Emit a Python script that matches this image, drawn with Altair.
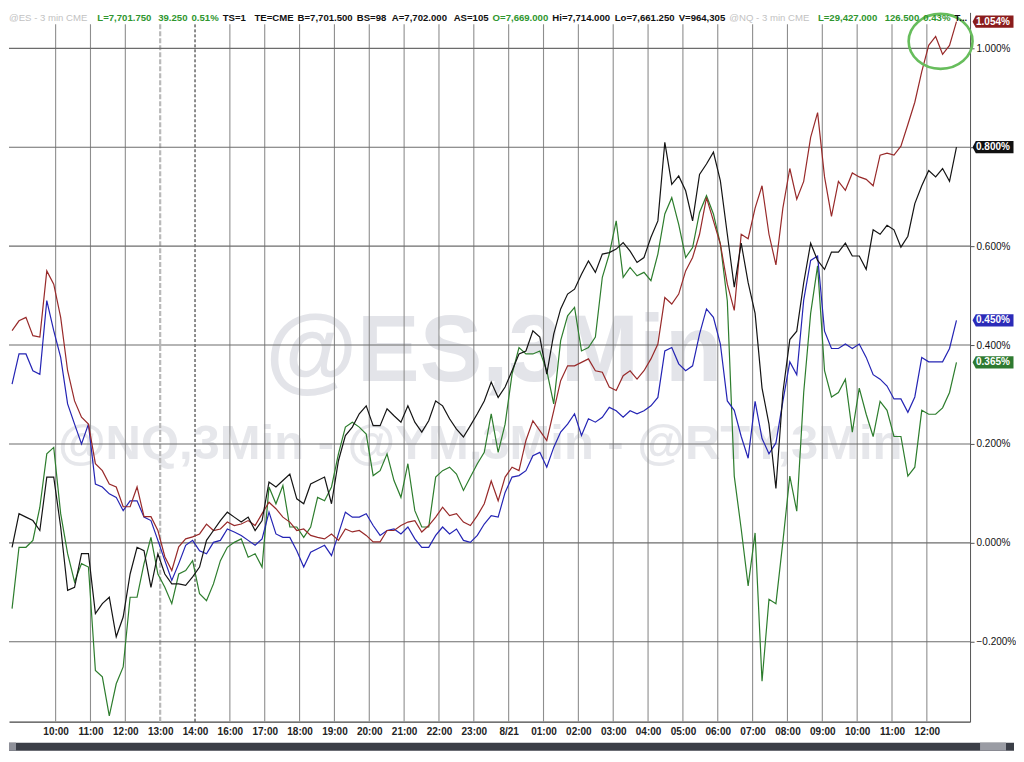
import json
import altair as alt
import pandas as pd

# ---------------- data ----------------
time_labels = ["10:00", "11:00", "12:00", "13:00", "14:00", "16:00", "17:00", "18:00",
               "19:00", "20:00", "21:00", "22:00", "23:00", "8/21", "01:00", "02:00",
               "03:00", "04:00", "05:00", "06:00", "07:00", "08:00", "09:00", "10:00",
               "11:00", "12:00"]
y_ticks = [-0.2, 0.0, 0.2, 0.4, 0.6, 0.8, 1.0]

# percent change, sampled every 12 minutes (4 bars of 3 min)
red_pct = [
    0.429, 0.449, 0.456, 0.419, 0.416, 0.550, 0.523, 0.456, 0.348, 0.287,
    0.254, 0.240, 0.160, 0.146, 0.119, 0.113, 0.073, 0.073, 0.113, 0.053,
    0.053, 0.025, -0.028, -0.056, -0.008, 0.008, 0.012, 0.018, 0.038, 0.025,
    0.028, 0.042, 0.035, 0.038, 0.045, 0.035, 0.059, 0.082, 0.069, 0.052,
    0.042, 0.025, 0.028, 0.015, 0.011, 0.008, 0.018, 0.005, 0.028, 0.022,
    0.025, 0.015, 0.002, 0.002, 0.025, 0.025, 0.035, 0.042, 0.045, 0.022,
    0.035, 0.052, 0.072, 0.055, 0.059, 0.042, 0.035, 0.055, 0.079, 0.125,
    0.085, 0.133, 0.153, 0.146, 0.207, 0.247, 0.227, 0.207, 0.267, 0.328,
    0.358, 0.358, 0.365, 0.372, 0.348, 0.345, 0.315, 0.308, 0.338, 0.348,
    0.331, 0.348, 0.372, 0.402, 0.496, 0.483, 0.503, 0.550, 0.577, 0.624,
    0.698, 0.651, 0.604, 0.523, 0.470, 0.624, 0.615, 0.677, 0.722, 0.624,
    0.562, 0.677, 0.757, 0.695, 0.731, 0.820, 0.870, 0.740, 0.660, 0.731,
    0.713, 0.748, 0.740, 0.735, 0.722, 0.784, 0.788, 0.784, 0.802, 0.846,
    0.891, 0.953, 1.006, 1.024, 0.988, 1.006, 1.054]

black_pct = [
    -0.009, 0.059, 0.052, 0.045, 0.025, 0.133, 0.133, 0.032, -0.096, -0.090,
    -0.022, -0.022, -0.143, -0.123, -0.110, -0.190, -0.150, -0.063, -0.009, -0.016,
    -0.090, -0.022, -0.063, -0.083, -0.083, -0.086, -0.069, -0.049, 0.005, 0.025,
    0.045, 0.062, 0.052, 0.042, 0.052, 0.025, 0.045, 0.123, 0.113, 0.126,
    0.139, 0.089, 0.079, 0.119, 0.126, 0.133, 0.079, 0.166, 0.217, 0.234,
    0.261, 0.277, 0.237, 0.237, 0.271, 0.257, 0.244, 0.277, 0.244, 0.224,
    0.247, 0.287, 0.277, 0.251, 0.230, 0.214, 0.237, 0.261, 0.287, 0.325,
    0.294, 0.315, 0.348, 0.382, 0.388, 0.429, 0.416, 0.341, 0.422, 0.473,
    0.503, 0.513, 0.543, 0.570, 0.547, 0.584, 0.587, 0.594, 0.607, 0.590,
    0.567, 0.577, 0.618, 0.651, 0.810, 0.725, 0.742, 0.712, 0.651, 0.745,
    0.766, 0.790, 0.732, 0.624, 0.517, 0.606, 0.526, 0.464, 0.313, 0.240,
    0.110, 0.304, 0.411, 0.428, 0.526, 0.606, 0.571, 0.553, 0.588, 0.588,
    0.606, 0.580, 0.580, 0.553, 0.633, 0.624, 0.642, 0.633, 0.598, 0.620,
    0.686, 0.722, 0.753, 0.740, 0.757, 0.731, 0.800]

blue_pct = [
    0.321, 0.382, 0.382, 0.348, 0.341, 0.490, 0.429, 0.375, 0.281, 0.240,
    0.200, 0.240, 0.119, 0.113, 0.099, 0.092, 0.065, 0.085, 0.085, 0.052,
    0.045, 0.005, -0.036, -0.076, -0.042, -0.005, 0.005, -0.016, -0.022, 0.001,
    0.005, 0.028, 0.022, 0.015, 0.005, -0.005, 0.008, 0.062, 0.018, 0.011,
    0.011, -0.016, -0.049, -0.019, -0.012, -0.005, -0.026, 0.018, 0.062, 0.052,
    0.052, 0.059, 0.035, 0.015, 0.025, 0.028, 0.018, 0.032, 0.008, -0.009,
    -0.009, 0.015, 0.032, 0.018, 0.028, 0.005, 0.001, 0.015, 0.038, 0.055,
    0.052, 0.102, 0.133, 0.136, 0.146, 0.176, 0.183, 0.153, 0.193, 0.224,
    0.240, 0.261, 0.217, 0.251, 0.244, 0.254, 0.274, 0.267, 0.254, 0.267,
    0.261, 0.267, 0.277, 0.294, 0.388, 0.395, 0.362, 0.348, 0.358, 0.422,
    0.473, 0.456, 0.402, 0.287, 0.268, 0.215, 0.171, 0.286, 0.211, 0.180,
    0.202, 0.286, 0.366, 0.340, 0.491, 0.571, 0.580, 0.428, 0.393, 0.393,
    0.402, 0.393, 0.402, 0.375, 0.340, 0.331, 0.317, 0.291, 0.291, 0.264,
    0.295, 0.375, 0.366, 0.366, 0.366, 0.393, 0.450]

green_pct = [
    -0.133, -0.009, -0.009, 0.005, 0.072, 0.180, 0.193, 0.059, -0.022, -0.079,
    -0.042, -0.049, -0.258, -0.271, -0.350, -0.285, -0.251, -0.110, -0.110, -0.042,
    0.011, -0.063, -0.090, -0.123, -0.063, -0.056, -0.036, -0.103, -0.117, -0.083,
    -0.036, -0.009, 0.001, 0.008, -0.029, -0.022, -0.049, 0.113, 0.079, 0.116,
    0.032, 0.032, 0.011, 0.032, 0.092, 0.085, 0.113, 0.180, 0.234, 0.244,
    0.234, 0.220, 0.136, 0.146, 0.180, 0.126, 0.092, 0.160, 0.065, 0.032,
    0.032, 0.133, 0.146, 0.153, 0.139, 0.106, 0.133, 0.160, 0.183, 0.261,
    0.183, 0.240, 0.341, 0.395, 0.382, 0.382, 0.388, 0.348, 0.281, 0.409,
    0.459, 0.476, 0.388, 0.395, 0.416, 0.537, 0.584, 0.651, 0.537, 0.557,
    0.540, 0.547, 0.530, 0.584, 0.665, 0.698, 0.644, 0.577, 0.597, 0.668,
    0.702, 0.665, 0.604, 0.489, 0.135, 0.028, -0.087, 0.020, -0.280, -0.114,
    -0.123, 0.002, 0.135, 0.064, 0.304, 0.464, 0.560, 0.348, 0.295, 0.304,
    0.331, 0.224, 0.313, 0.260, 0.215, 0.286, 0.268, 0.215, 0.215, 0.135,
    0.153, 0.268, 0.260, 0.260, 0.273, 0.304, 0.365]

header_segments = [
    ("@ES - 3 min  CME", "gray"), ("L=7,701.750", "green"), ("39.250", "green"),
    ("0.51%", "green"), ("TS=1", "black"), ("TE=CME", "black"), ("B=7,701.500", "black"),
    ("BS=98", "black"), ("A=7,702.000", "black"), ("AS=105", "black"),
    ("O=7,669.000", "green"), ("Hi=7,714.000", "black"), ("Lo=7,661.250", "black"),
    ("V=964,305", "black"), ("@NQ - 3 min  CME", "gray"), ("L=29,427.000", "green"),
    ("126.500", "green"), ("0.43%", "green"), ("T...", "black")]

# ---------------- layout ----------------
W, H = 962, 710
REF_W = 979.0
SX = W / REF_W
HOUR_PX, HOUR0_PX = 35.5, 47.5
X_DOM = [(0 - HOUR0_PX) / HOUR_PX, (REF_W - HOUR0_PX) / HOUR_PX]
Y_DOM = [(539 - 8 - H) / 495.0, (539 - 8) / 495.0]
FIRST_SLOT, LAST_SLOT = -1.25, 25.85
header_anchor = [0, 90, 152, 183, 217, 250, 293, 353, 390, 453, 490, 552, 617, 680, 732,
                 824, 892, 929, 959]
header_colors = {"gray": "#c2c2c2", "green": "#2f962f", "black": "#111111"}
HEADER_SIZE = 9.6
FONT = "Liberation Sans"

# rough Arial-bold advance widths (em) to keep header pieces from touching
_w = {c: 0.556 for c in "0123456789"}
_w.update({".": 0.278, ",": 0.278, "=": 0.584, "%": 0.889, " ": 0.278, "-": 0.333,
           "@": 0.975, "L": 0.611, "T": 0.611, "S": 0.667, "E": 0.667, "C": 0.722,
           "M": 0.833, "B": 0.722, "A": 0.722, "O": 0.778, "H": 0.722, "V": 0.667,
           "N": 0.722, "Q": 0.778, "i": 0.278, "o": 0.611, "m": 0.889, "n": 0.611})


def text_w(s):
    return sum(_w.get(c, 0.6) for c in s) * HEADER_SIZE


header_x = []
prev_end = -1e9
for (txt, _), ax in zip(header_segments, header_anchor):
    x0 = max(ax * SX, prev_end + 4)
    header_x.append(x0)
    prev_end = x0 + text_w(txt)

series = [
    ("green", green_pct, "#2d7d2d", "#2e7a30"),
    ("blue", blue_pct, "#2424b4", "#2b2bb8"),
    ("red", red_pct, "#982a2a", "#8a1c1c"),
    ("black", black_pct, "#141414", "#111111"),
]

x_scale = alt.Scale(domain=X_DOM, nice=False, zero=False)
y_scale = alt.Scale(domain=Y_DOM, nice=False, zero=False)
x_axis = alt.Axis(values=list(range(len(time_labels))),
                  labelExpr=json.dumps(time_labels) + "[datum.value]",
                  grid=False, ticks=False, domainColor="#444444", domainWidth=1.2,
                  labelFont=FONT, labelFontSize=10, labelFontWeight="bold",
                  labelColor="#222222", labelPadding=5, labelFlush=False,
                  labelOverlap=False, title=None)
y_axis = alt.Axis(orient="right", values=y_ticks,
                  labelExpr="format(datum.value, '.3f') + '%'",
                  grid=False, tickSize=4, tickColor="#555555", domainColor="#555555",
                  labelFont=FONT, labelFontSize=10, labelColor="#111111",
                  labelPadding=2, title=None)


def X(field):
    return alt.X(field, type="quantitative", scale=x_scale, axis=x_axis)


def Y(field):
    return alt.Y(field, type="quantitative", scale=y_scale, axis=y_axis)


layers = []

# watermarks
layers.append(alt.Chart().mark_text(
    text="@ES,3Min", font=FONT, fontSize=94, fontWeight="bold", color="#e3e4e9",
    align="center", baseline="alphabetic").encode(
    x=alt.value(494 * SX), y=alt.value(377 - 8)))
layers.append(alt.Chart().mark_text(
    text="@NQ,3Min - @YM,3Min - @RTY,3Min", font=FONT, fontSize=49, fontWeight="bold",
    color="#e6e7eb", align="center", baseline="alphabetic").encode(
    x=alt.value(480 * SX), y=alt.value(455 - 8)))

# vertical hour lines
slots_df = pd.DataFrame({"slot": list(range(len(time_labels)))})
break_slot = time_labels.index("13:00")
open_slot = time_labels.index("14:00")
layers.append(alt.Chart(slots_df).transform_filter(
    f"datum.slot != {break_slot} && datum.slot != {open_slot}").mark_rule(
    color="#8e8e8e", strokeWidth=1.1).encode(
    x=X("slot"), y=alt.value(12), y2=alt.value(H)))
layers.append(alt.Chart(slots_df).transform_filter(f"datum.slot == {break_slot}").mark_rule(
    color="#b9b9b9", strokeWidth=2.2, strokeDash=[5, 2]).encode(
    x=X("slot"), y=alt.value(12), y2=alt.value(H)))
layers.append(alt.Chart(slots_df).transform_filter(f"datum.slot == {open_slot}").mark_rule(
    color="#1a1a1a", strokeWidth=1, strokeDash=[3, 2]).encode(
    x=X("slot"), y=alt.value(12), y2=alt.value(H)))

# horizontal grid lines
layers.append(alt.Chart(pd.DataFrame({"pct": y_ticks})).mark_rule(
    color="#6c6c6c", strokeWidth=1.1).encode(y=Y("pct")))

# the four series
n = len(red_pct)
step = (LAST_SLOT - FIRST_SLOT) / (n - 1)
for name, vals, line_col, _ in series:
    df = pd.DataFrame({"slot": [FIRST_SLOT + k * step for k in range(len(vals))],
                       "pct": vals})
    layers.append(alt.Chart(df).mark_line(color=line_col, strokeWidth=1.2).encode(
        x=X("slot"), y=Y("pct")))

# green highlight ellipse around the end of the red line
ell_df = pd.DataFrame({"slot": [(949 - HOUR0_PX) / HOUR_PX], "pct": [(539 - 37) / 495.0]})
layers.append(alt.Chart(ell_df).mark_point(
    shape="M -1 0 A 1 0.86 0 1 1 1 0 A 1 0.86 0 1 1 -1 0 Z",
    size=4096, filled=False, stroke="#67bd5c", strokeWidth=2.6, opacity=1).encode(
    x=X("slot"), y=Y("pct")))

# header
for (txt, col), hx in zip(header_segments, header_x):
    layers.append(alt.Chart().mark_text(
        text=txt, font=FONT, fontSize=HEADER_SIZE,
        fontWeight="normal" if col == "gray" else "bold",
        color=header_colors[col], align="left", baseline="top").encode(
        x=alt.value(hx), y=alt.value(1)))

# last value boxes on the right axis
end_df = pd.DataFrame({
    "series": [s[0] for s in series],
    "pct": [s[1][-1] for s in series],
    "box": [s[3] for s in series],
})
layers.append(alt.Chart(end_df).mark_point(
    shape="M -1 0 L -0.84 -0.3 L 1 -0.3 L 1 0.3 L -0.84 0.3 Z",
    size=1681, filled=True, opacity=1, strokeWidth=0).encode(
    x=alt.value(W + 23), y=Y("pct"), fill=alt.Fill("box:N", scale=None)))
layers.append(alt.Chart(end_df).transform_calculate(
    label="format(datum.pct, '.3f') + '%'").mark_text(
    font=FONT, fontSize=10, fontWeight="bold", color="white", align="left",
    baseline="middle").encode(
    x=alt.value(W + 6), y=Y("pct"), text="label:N"))

# scrollbar strip at the bottom
layers.append(alt.Chart().mark_rect(color="#3b3e47").encode(
    x=alt.value(0), x2=alt.value(W + 44), y=alt.value(H + 21), y2=alt.value(H + 29)))
layers.append(alt.Chart().mark_rect(color="#8e9099").encode(
    x=alt.value(0), x2=alt.value(7), y=alt.value(H + 21), y2=alt.value(H + 29)))
layers.append(alt.Chart().mark_rect(color="#9a9ca4").encode(
    x=alt.value(W + 10), x2=alt.value(W + 36), y=alt.value(H + 21), y2=alt.value(H + 29)))

chart = alt.layer(*layers).properties(
    width=W, height=H, background="white",
    padding={"left": 0, "top": 0, "right": 0, "bottom": 0},
).configure_view(stroke=None)

chart.save("out.html", embed_options={"renderer": "svg", "actions": False})
